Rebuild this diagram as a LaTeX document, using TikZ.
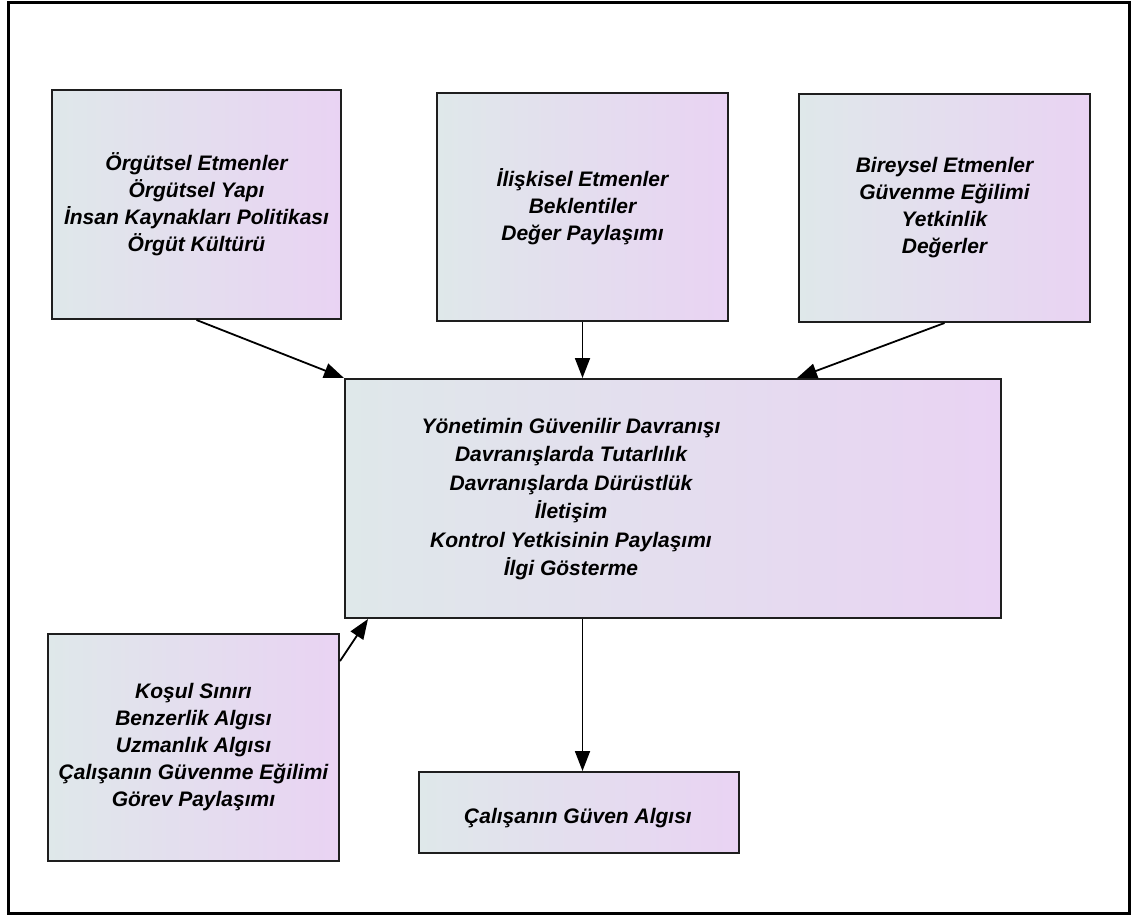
\documentclass[tikz,border=0pt]{standalone}
\usepackage{fontspec}
\setmainfont{Liberation Sans}
\usetikzlibrary{arrows.meta,positioning,calc}

\definecolor{boxleft}{RGB}{223,232,234}
\definecolor{boxright}{RGB}{233,211,243}
\definecolor{edge}{RGB}{30,30,30}

\tikzset{
  factor/.style={draw=edge, line width=2pt, rectangle, anchor=north west,
    left color=boxleft, right color=boxright, align=center,
    font=\fontsize{21}{27}\selectfont\bfseries\itshape, inner sep=0pt},
  label text/.style={align=center, font=\fontsize{21}{28.5}\selectfont\bfseries\itshape, inner sep=0pt},
  link/.style={line width=1.8pt, draw=black, -{Triangle[length=20pt,width=15pt]}}
}

\begin{document}
\begin{tikzpicture}[x=1pt,y=-1pt]
\useasboundingbox (0,0) rectangle (1131,918);
% outer frame
\draw[line width=3pt, black] (8,2) rectangle (1129.5,913);

% upper row of factors
\node[factor, minimum width=289pt, minimum height=229pt] (b1) at (51,89)
  {Örgütsel Etmenler\\Örgütsel Yapı\\İnsan Kaynakları Politikası\\Örgüt Kültürü};
\node[factor, minimum width=291pt, minimum height=228pt] (b2) at (436,92)
  {İlişkisel Etmenler\\Beklentiler\\Değer Paylaşımı};
\node[factor, minimum width=291pt, minimum height=228pt] (b3) at (798,93)
  {Bireysel Etmenler\\Güvenme Eğilimi\\Yetkinlik\\Değerler};

% central box
\node[factor, minimum width=656pt, minimum height=239pt] (m) at (344,378) {};
\node[label text] (mtext) at (571,499)
  {Yönetimin Güvenilir Davranışı\\Davranışlarda Tutarlılık\\Davranışlarda Dürüstlük\\İletişim\\Kontrol Yetkisinin Paylaşımı\\İlgi Gösterme};

% lower boxes
\node[factor, minimum width=291pt, minimum height=227pt] (b5) at (47,633)
  {Koşul Sınırı\\Benzerlik Algısı\\Uzmanlık Algısı\\Çalışanın Güvenme Eğilimi\\Görev Paylaşımı};
\node[factor, minimum width=320pt, minimum height=81pt] (b6) at (418,771) {};
\node[label text] (b6text) at (578,818) {Çalışanın Güven Algısı};

% connectors
\draw[link] (b1.south) -- (m.north west);
\draw[link] (b2.south) -- (b2.south |- m.north);
\draw[link] (b3.south) -- ([xshift=-205pt]m.north east);
\draw[link] ([yshift=-28pt]b5.north east) -- ([xshift=24pt]m.south west);
\draw[link] (b2.south |- m.south) -- (b2.south |- b6.north);
\end{tikzpicture}
\end{document}
